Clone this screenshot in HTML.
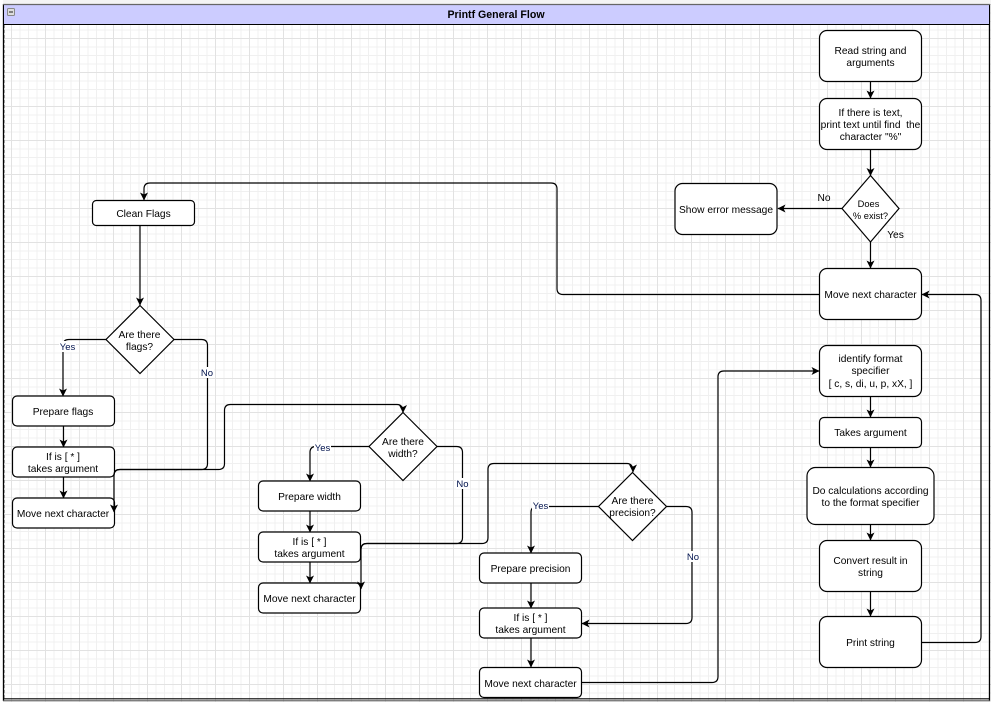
<!DOCTYPE html>
<html><head><meta charset="utf-8"><style>
html,body{margin:0;padding:0;background:#fff}
svg{display:block}
text{font-family:"Liberation Sans",sans-serif;font-size:10.2px;fill:#000;text-anchor:middle;white-space:pre}
.n{fill:#fff;stroke:#000;stroke-width:1.2}
.e{fill:none;stroke:#000;stroke-width:1.2}
.l{fill:#00124d}
</style></head><body>
<svg width="991" height="702" viewBox="0 0 991 702" xmlns="http://www.w3.org/2000/svg">
<defs>
<pattern id="g" x="45" y="38" width="34" height="34" patternUnits="userSpaceOnUse">
<path d="M9 0V34M17.500 0V34M26 0V34M0 9H34M0 17.500H34M0 26H34" fill="none" stroke="#f0f0f0" stroke-width="1"/>
<path d="M0.500 0V34M0 0.500H34" fill="none" stroke="#e2e2e2" stroke-width="1"/>
</pattern>
<marker id="a" markerWidth="10" markerHeight="10" refX="7.500" refY="5" orient="auto" markerUnits="userSpaceOnUse"><path d="M0 1L8 5L0 9L2 5Z" fill="#000"/></marker>
</defs>
<rect width="991" height="702" fill="#fff"/>
<rect width="991" height="702" fill="url(#g)"/>
<rect x="0" y="0" width="991" height="4" fill="#f4f4f4"/>
<rect x="0" y="0" width="3" height="702" fill="#fff"/>
<path d="M3.500 4V701M989.500 4V701" stroke="#000" stroke-width="1.300"/>
<path d="M4.500 25V698" stroke="#999" stroke-width="1" stroke-dasharray="3 2"/>
<rect x="4" y="5" width="985" height="19" fill="#ccccff"/>
<path d="M4 24.500H990" stroke="#000" stroke-width="1.100"/>
<path d="M3 698.800H990" stroke="#000" stroke-width="1.200"/>
<path d="M3 700.800H990" stroke="#555" stroke-width="1"/>
<path d="M3 4.500H990" stroke="#666" stroke-width="1.200"/>
<rect x="7.500" y="8.500" width="7" height="7" rx="1" fill="#ddd" stroke="#888"/>
<path d="M9 12H13" stroke="#555" stroke-width="1.400"/>
<text x="496" y="18" style="font-weight:bold;font-size:10.600px">Printf General Flow</text>

<path class="e" marker-end="url(#a)" d="M870.500 81V98"/>
<path class="e" marker-end="url(#a)" d="M870.500 149V175.500"/>
<path class="e" marker-end="url(#a)" d="M842 208.500H778"/>
<path class="e" marker-end="url(#a)" d="M870.500 242V268"/>
<path class="e" marker-end="url(#a)" d="M819 294.500H563Q557 294.500 557 288.500V189Q557 183 551 183H150Q144 183 144 189V200"/>
<path class="e" marker-end="url(#a)" d="M140 226V305"/>
<path class="e" marker-end="url(#a)" d="M106 339.500H69Q63 339.500 63 345.500V396"/>
<path class="e" marker-end="url(#a)" d="M63.500 426V447"/>
<path class="e" marker-end="url(#a)" d="M63.500 477V498"/>
<path class="e" marker-end="url(#a)" d="M369 446.500H316Q310 446.500 310 452.500V481"/>
<path class="e" marker-end="url(#a)" d="M310 511V532"/>
<path class="e" marker-end="url(#a)" d="M310 562V583"/>
<path class="e" marker-end="url(#a)" d="M599 506.500H537Q531 506.500 531 512.500V553"/>
<path class="e" marker-end="url(#a)" d="M531 583V608"/>
<path class="e" marker-end="url(#a)" d="M531 638V667"/>
<path class="e" marker-end="url(#a)" d="M666 506.500H686Q692 506.500 692 512.500V617.500Q692 623.500 686 623.500H582"/>
<path class="e" marker-end="url(#a)" d="M582 682.500H712Q718 682.500 718 676.500V377Q718 371 724 371H819"/>
<path class="e" marker-end="url(#a)" d="M870.500 396V417"/>
<path class="e" marker-end="url(#a)" d="M870.500 447V467"/>
<path class="e" marker-end="url(#a)" d="M870.500 524V540"/>
<path class="e" marker-end="url(#a)" d="M870.500 591V616"/>
<path class="e" marker-end="url(#a)" d="M921 642.500H975Q981 642.500 981 636.500V300.500Q981 294.500 975 294.500H922"/>

<rect class="n" x="819.500" y="30.500" width="102" height="51" rx="7.500"/>
<rect class="n" x="819.500" y="98.500" width="102" height="51" rx="7.500"/>
<polygon class="n" points="870.500,175.500 899,208.500 870.500,242 842,208.500"/>
<rect class="n" x="675" y="183.500" width="102" height="51" rx="7.500"/>
<rect class="n" x="819.500" y="268.500" width="102" height="51" rx="7.500"/>
<rect class="n" x="819.500" y="345.500" width="102" height="51" rx="7.500"/>
<rect class="n" x="819.500" y="417.500" width="102" height="30" rx="4.500"/>
<rect class="n" x="807" y="467.500" width="127" height="57" rx="8.500"/>
<rect class="n" x="819.500" y="540.500" width="102" height="51" rx="7.500"/>
<rect class="n" x="819.500" y="616.500" width="102" height="51" rx="7.500"/>
<rect class="n" x="92.500" y="200.500" width="102" height="25" rx="3.800"/>
<polygon class="n" points="140,305.500 174,339.500 140,373.500 106,339.500"/>
<rect class="n" x="12.500" y="396" width="102" height="30" rx="4.500"/>
<rect class="n" x="12.500" y="447" width="102" height="30" rx="4.500"/>
<rect class="n" x="12.500" y="498" width="102" height="30" rx="4.500"/>
<polygon class="n" points="403,412.500 437,446.500 403,480.500 369,446.500"/>
<rect class="n" x="258.500" y="481" width="102" height="30" rx="4.500"/>
<rect class="n" x="258.500" y="532" width="102" height="30" rx="4.500"/>
<rect class="n" x="258.500" y="583" width="102" height="30" rx="4.500"/>
<polygon class="n" points="632.500,472.500 666.500,506.500 632.500,540.500 598.500,506.500"/>
<rect class="n" x="479.500" y="553" width="102" height="30" rx="4.500"/>
<rect class="n" x="479.500" y="608" width="102" height="30" rx="4.500"/>
<rect class="n" x="479.500" y="667.500" width="102" height="30" rx="4.500"/>

<path class="e" marker-end="url(#a)" d="M174 339.500H201.500Q207.500 339.500 207.500 345.500V463.500Q207.500 469.500 201.500 469.500H120Q114 469.500 114 475.500V512"/>
<path class="e" d="M114 475.500Q114 469.500 120 469.500H218.500Q224.500 469.500 224.500 463.500V410.500Q224.500 404.500 230.500 404.500H397"/>
<path class="e" marker-end="url(#a)" d="M397 404.500Q403 404.500 403 412.500"/>
<path class="e" marker-end="url(#a)" d="M437 446.500H456.500Q462.500 446.500 462.500 452.500V537.500Q462.500 543.500 456.500 543.500H367Q361 543.500 361 549.500V589"/>
<path class="e" d="M361 549.500Q361 543.500 367 543.500H482Q488 543.500 488 537.500V469.500Q488 463.500 494 463.500H627"/>
<path class="e" marker-end="url(#a)" d="M627 463.500Q633 463.500 633 472"/>

<text x="870.500" y="54">Read string and</text><text x="870.500" y="66">arguments</text>
<text x="870.500" y="116">If there is text,</text><text x="870.500" y="128">print text until find  the</text><text x="870.500" y="140">character "%"</text>
<text x="868.500" y="207" style="font-size:9.300px">Does</text><text x="870.500" y="219" style="font-size:9.300px">% exist?</text>
<text x="726" y="213">Show error message</text>
<text x="824" y="201">No</text><text x="895.500" y="238">Yes</text>
<text x="870.500" y="298">Move next character</text>
<text x="870.500" y="362">identify format</text><text x="870.500" y="374">specifier</text><text x="870.500" y="387">[ c, s, di, u, p, xX, ]</text>
<text x="870.500" y="436">Takes argument</text>
<text x="870.500" y="494">Do calculations according</text><text x="870.500" y="506">to the format specifier</text>
<text x="870.500" y="564">Convert result in</text><text x="870.500" y="576">string</text>
<text x="870.500" y="646">Print string</text>
<text x="143.500" y="217">Clean Flags</text>
<text x="139.500" y="338">Are there</text><text x="139.500" y="350">flags?</text>
<text x="63" y="415">Prepare flags</text>
<text x="63" y="460">If is [ * ]</text><text x="63" y="472">takes argument</text>
<text x="63" y="517">Move next character</text>
<text x="403" y="445">Are there</text><text x="403" y="457">width?</text>
<text x="309.500" y="500">Prepare width</text>
<text x="309.500" y="545">If is [ * ]</text><text x="309.500" y="557">takes argument</text>
<text x="309.500" y="602">Move next character</text>
<text x="632.500" y="504">Are there</text><text x="632.500" y="516">precision?</text>
<text x="530.500" y="572">Prepare precision</text>
<text x="530.500" y="621">If is [ * ]</text><text x="530.500" y="633">takes argument</text>
<text x="530.500" y="687">Move next character</text>

<rect x="59" y="341" width="17" height="11" fill="#fff"/><text x="67.500" y="350" class="l" style="font-size:9.500px">Yes</text>
<rect x="200" y="367" width="14" height="11" fill="#fff"/><text x="207" y="376" class="l" style="font-size:9.500px">No</text>
<rect x="314" y="442" width="17" height="11" fill="#fff"/><text x="322.500" y="451" class="l" style="font-size:9.500px">Yes</text>
<rect x="456" y="478" width="14" height="11" fill="#fff"/><text x="462.500" y="487" class="l" style="font-size:9.500px">No</text>
<rect x="532" y="500" width="17" height="11" fill="#fff"/><text x="540.500" y="509" class="l" style="font-size:9.500px">Yes</text>
<rect x="686" y="551" width="14" height="11" fill="#fff"/><text x="693" y="560" class="l" style="font-size:9.500px">No</text>
</svg>
</body></html>
